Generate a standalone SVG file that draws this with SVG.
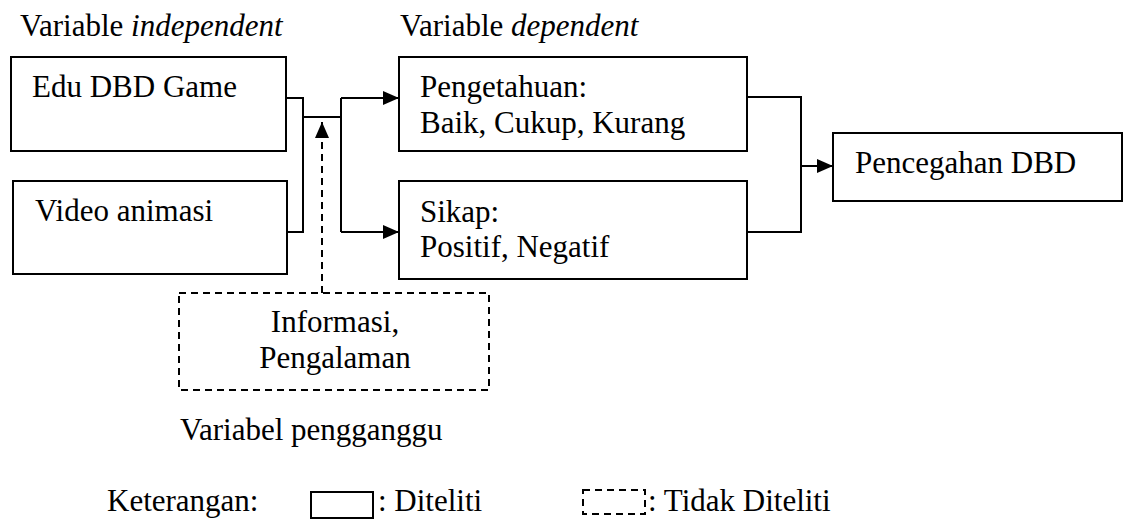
<svg xmlns="http://www.w3.org/2000/svg" width="1125" height="521" viewBox="0 0 1125 521">
<style>
text{font-family:"Liberation Serif","Times New Roman",serif;font-size:31px;fill:#000}
.box{fill:#fff;stroke:#000;stroke-width:2}
.dbox{fill:none;stroke:#000;stroke-width:2;stroke-dasharray:7,5}
.ln{fill:none;stroke:#000;stroke-width:2}
.dln{fill:none;stroke:#000;stroke-width:2;stroke-dasharray:7,5}
</style>
<defs>
<marker id="ah" viewBox="0 0 16 14" refX="16" refY="7" markerWidth="16" markerHeight="14" markerUnits="userSpaceOnUse" orient="auto">
<path d="M0,0 L16,7 L0,14 Z" fill="#000"/>
</marker>
</defs>
<rect width="1125" height="521" fill="#fff"/>
<g id="labels">
<text x="20" y="36">Variable <tspan font-style="italic">independent</tspan></text>
<text x="400" y="36">Variable <tspan font-style="italic">dependent</tspan></text>
<text x="180" y="440">Variabel pengganggu</text>
</g>
<g id="connectors">
<path class="ln" d="M286,98 H303 V232 H287"/>
<path class="ln" d="M303,117 H341"/>
<path class="ln" d="M341,98 V232"/>
<path class="ln" d="M341,98 H399" marker-end="url(#ah)"/>
<path class="ln" d="M341,232 H399" marker-end="url(#ah)"/>
<path class="ln" d="M747,97 H801 V232 H747"/>
<path class="ln" d="M801,166 H833" marker-end="url(#ah)"/>
<path class="dln" d="M322,293 V122" marker-end="url(#ah)"/>
</g>
<g id="edu">
<rect class="box" x="11" y="57" width="275" height="94"/>
<text x="32" y="97">Edu DBD Game</text>
</g>
<g id="video">
<rect class="box" x="13" y="181" width="274" height="93"/>
<text x="35" y="221">Video animasi</text>
</g>
<g id="pengetahuan">
<rect class="box" x="399" y="57" width="348" height="94"/>
<text x="420" y="97">Pengetahuan:</text>
<text x="420" y="133">Baik, Cukup, Kurang</text>
</g>
<g id="sikap">
<rect class="box" x="399" y="181" width="348" height="98"/>
<text x="420" y="222">Sikap:</text>
<text x="420" y="257">Positif, Negatif</text>
</g>
<g id="pencegahan">
<rect class="box" x="833" y="133" width="289" height="68"/>
<text x="855" y="173">Pencegahan DBD</text>
</g>
<g id="pengganggu">
<rect class="dbox" x="179" y="293" width="310" height="97"/>
<text x="335" y="332" text-anchor="middle">Informasi,</text>
<text x="335" y="368" text-anchor="middle">Pengalaman</text>
</g>
<g id="legend">
<text x="107" y="511">Keterangan:</text>
<rect class="box" x="311" y="492" width="62" height="26"/>
<text x="378" y="511">: Diteliti</text>
<rect class="dbox" x="583" y="490" width="62" height="24" stroke-dasharray="6,4"/>
<text x="648" y="511">: Tidak Diteliti</text>
</g>
</svg>
